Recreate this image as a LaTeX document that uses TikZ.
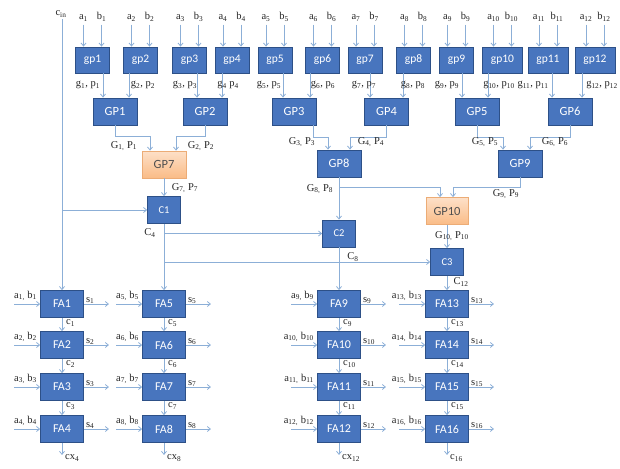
\documentclass[tikz,border=0pt]{standalone}
\usepackage{fontspec}
\setmainfont{Liberation Serif}
\newfontfamily\boxfont{Carlito}
\usetikzlibrary{arrows.meta}
\definecolor{bxfill}{RGB}{72,117,190}
\definecolor{bxdraw}{RGB}{45,80,135}
\definecolor{wirec}{RGB}{140,175,215}
\definecolor{ortop}{RGB}{253,224,200}
\definecolor{orbot}{RGB}{250,188,135}
\definecolor{ordraw}{RGB}{236,172,118}
\definecolor{lblc}{RGB}{35,35,35}
\tikzset{
 bx/.style={draw=bxdraw, fill=bxfill, text=white, font=\boxfont\fontsize{11.5}{11.5}\selectfont, inner sep=0pt, line width=0.8pt},
 gpbox/.style={bx, minimum width=34pt, minimum height=26pt},
 GPbox/.style={bx, minimum width=44pt, minimum height=27pt, font=\boxfont\fontsize{12.5}{12.5}\selectfont},
 orbox/.style={GPbox, draw=ordraw, top color=ortop, bottom color=orbot, text=lblc!80},
 cbox/.style={bx, minimum width=33pt, minimum height=27pt, font=\boxfont\fontsize{10.5}{10.5}\selectfont},
 fabox/.style={bx, minimum width=43pt, minimum height=27pt, font=\boxfont\fontsize{12}{12}\selectfont},
 arr/.style={draw=wirec, line width=0.8pt, -{Straight Barb[length=3pt,width=5pt]}},
 lab/.style={font=\fontsize{10.5}{12}\selectfont, text=lblc, inner sep=0pt},
}
\begin{document}
\begin{tikzpicture}[x=1pt,y=-1pt]
\useasboundingbox (0,0) rectangle (620,468);
% top row
\node[lab] (cin) at (61,14) {c\textsubscript{in}};
\foreach \i/\x in {1/92.5,2/140.5,3/189.5,4/232,5/275,6/322.5,7/365,8/413.5,9/456.5}{
  \node[gpbox] (gp\i) at (\x,60) {gp\i};
}
\foreach \i/\x in {10/502.5,11/548,12/595}{
  \node[gpbox,minimum width=40pt] (gp\i) at (\x,60) {gp\i};
}
\foreach \i in {1,...,12}{
  \draw[arr] ([xshift=-9,yshift=22]gp\i.north) -- ([xshift=-9]gp\i.north);
  \draw[arr] ([xshift=9,yshift=22]gp\i.north) -- ([xshift=9]gp\i.north);
  \node[lab,anchor=base] (ta\i) at ([xshift=-9,yshift=27]gp\i.north) {a\textsubscript{\i}};
  \node[lab,anchor=base] (tb\i) at ([xshift=9,yshift=27]gp\i.north) {b\textsubscript{\i}};
}
% GP level 1
\node[GPbox] (GP1) at (115,111.5) {GP1};
\node[GPbox] (GP2) at (205,111.5) {GP2};
\node[GPbox] (GP3) at (294,111.5) {GP3};
\node[GPbox] (GP4) at (386.5,111.5) {GP4};
\node[GPbox] (GP5) at (477,111.5) {GP5};
\node[GPbox] (GP6) at (570,111.5) {GP6};
\foreach \i/\s/\t in {1/10.5/GP1,2/-11.5/GP1,3/7.5/GP2,4/-10/GP2,5/8/GP3,6/-12.5/GP3,7/5/GP4,8/-10.5/GP4,9/5.5/GP5,10/-14.5/GP5,11/4/GP6,12/-13/GP6}{
  \draw[arr] ([xshift=\s]gp\i.south) -- ([xshift=\s]gp\i.south |- \t.north);
}
\foreach \i/\x in {1/88,2/143,3/185,5/269,6/323,7/364,8/413,9/447,10/499,11/533,12/602}{
  \node[lab] (gl\i) at (\x,85) {g\textsubscript{\i}, p\textsubscript{\i}};
}
\node[lab] (gl4) at (228,85) {g\textsubscript{4} p\textsubscript{4}};
% GP level 2
\node[orbox] (GP7) at (164,164.5) {GP7};
\node[GPbox] (GP8) at (339,163.5) {GP8};
\node[GPbox] (GP9) at (520,163.5) {GP9};
\node[orbox,minimum width=42pt] (GP10) at (447,211) {GP10};
\node[cbox] (C1) at (164,210) {C1};
\node[cbox] (C2) at (339,233.5) {C2};
\node[cbox] (C3) at (447,262) {C3};
\draw[arr] (GP1.south) -- ++(0,10.5) -| ([xshift=-14]GP7.north);
\draw[arr] (GP2.south) -- ++(0,10.5) -| ([xshift=12]GP7.north);
\draw[arr] ([xshift=19]GP3.south) -- ++(0,12) -| ([xshift=-11]GP8.north);
\draw[arr] (GP4.south) -- ++(0,12) -| ([xshift=11]GP8.north);
\draw[arr] (GP5.south) -- ++(0,12) -| ([xshift=-17]GP9.north);
\draw[arr] (GP6.south) -- ++(0,12) -| ([xshift=10]GP9.north);
\draw[arr] (GP7.south) -- (C1.north);
\draw[arr] (GP8.south) -- (C2.north);
\draw[arr] (GP8.south) -- ++(0,10) -| ([xshift=-7]GP10.north);
\draw[arr] (GP9.south) -- ++(0,10) -| ([xshift=6]GP10.north);
\draw[arr] (GP10.south) -- (C3.north);
\node[lab] (L1) at (124,146) {G\textsubscript{1,} P\textsubscript{1}};
\node[lab] (L2) at (201,146) {G\textsubscript{2,} P\textsubscript{2}};
\node[lab] (L3) at (302,142) {G\textsubscript{3,} P\textsubscript{3}};
\node[lab] (L4) at (371,142) {G\textsubscript{4,} P\textsubscript{4}};
\node[lab] (L5) at (485,142) {G\textsubscript{5,} P\textsubscript{5}};
\node[lab] (L6) at (555,142) {G\textsubscript{6,} P\textsubscript{6}};
\node[lab] (L7) at (185,188) {G\textsubscript{7,} P\textsubscript{7}};
\node[lab] (L8) at (320,189) {G\textsubscript{8,} P\textsubscript{8}};
\node[lab] (L9) at (506,194) {G\textsubscript{9,} P\textsubscript{9}};
\node[lab] (L10) at (452,236) {G\textsubscript{10,} P\textsubscript{10}};
\node[lab] (LC4) at (150,233) {C\textsubscript{4}};
\node[lab] (LC8) at (353,257) {C\textsubscript{8}};
\node[lab] (LC12) at (461,282) {C\textsubscript{12}};
% full adders
\foreach \c/\x in {0/62,1/164,2/339,3/447}{
  \foreach \r/\y in {1/304,2/345,3/387,4/429}{
    \pgfmathtruncatemacro\n{4*\c+\r}
    \node[fabox] (FA\n) at (\x,\y) {FA\n};
    \draw[arr] ([xshift=-26]FA\n.west) -- (FA\n.west);
    \node[lab,anchor=south east] (ab\n) at ([xshift=-3,yshift=3]FA\n.west) {a\textsubscript{\n,} b\textsubscript{\n}};
    \draw[arr] (FA\n.east) -- ([xshift=25]FA\n.east);
    \node[lab,anchor=south west] (s\n) at ([xshift=2,yshift=0]FA\n.east) {s\textsubscript{\n}};
  }
}
\foreach \a/\b in {1/2,2/3,3/4,5/6,6/7,7/8,9/10,10/11,11/12,13/14,14/15,15/16}{
  \draw[arr] (FA\a.south) -- (FA\b.north);
  \node[lab,anchor=west] (cc\a) at ([xshift=4,yshift=-5]FA\a.south) {c\textsubscript{\a}};
}
\foreach \n in {4,8,12,16}{
  \coordinate (co\n) at ([yshift=-12]FA\n.south);
  \draw[arr] (FA\n.south) -- (co\n);
}
\node[lab,anchor=west] (cx4) at ([xshift=3,yshift=-3]co4) {cx\textsubscript{4}};
\node[lab,anchor=west] (cx8) at ([xshift=3,yshift=-3]co8) {cx\textsubscript{8}};
\node[lab,anchor=west] (cx12) at ([xshift=3,yshift=-3]co12) {cx\textsubscript{12}};
\node[lab,anchor=west] (cx16) at ([xshift=3,yshift=-3]co16) {c\textsubscript{16}};
% carry lines
\draw[arr] ([yshift=-2]cin.south -| FA1.north) -- (FA1.north);
\draw[arr] (FA1.north |- C1.west) -- (C1.west);
\draw[arr] (C1.south) -- (FA5.north);
\draw[arr] (C1.south |- C2.west) -- (C2.west);
\draw[arr] (C1.south |- C3.west) -- (C3.west);
\draw[arr] (C2.south) -- (FA9.north);
\draw[arr] (C3.south) -- (FA13.north);
\end{tikzpicture}
\end{document}
